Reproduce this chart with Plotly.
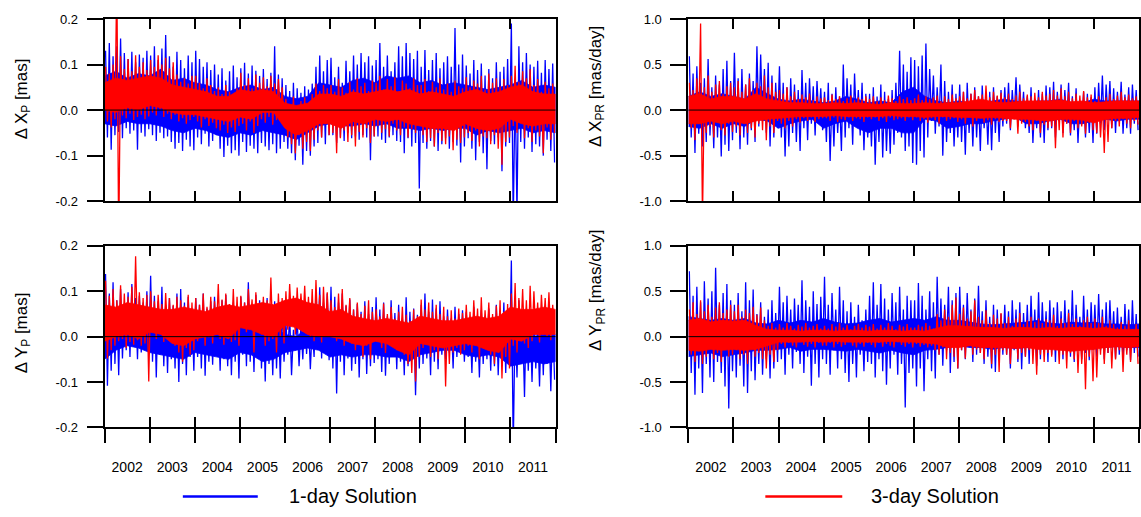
import plotly.graph_objects as go

# ---------------------------------------------------------------------------
# Time axis: monthly samples, 2002.0 - 2012.0
# ---------------------------------------------------------------------------
YEARS = list(range(2002, 2012))
YEAR_LABELS = [str(y) for y in YEARS]

# Monthly peak (HI) and trough (LO) of the daily series, one row per year.
# Polar motion offsets in units of 0.001 mas.
XP_1D_HI = [
    130, 147, 118, 140, 157, 125, 112, 128, 105, 122, 115, 130,
    120, 140, 110, 135, 165, 118, 95, 128, 110, 92, 120, 105,
    130, 112, 95, 105, 88, 100, 78, 92, 65, 85, 98, 72,
    92, 104, 80, 98, 86, 75, 90, 68, 82, 140, 78, 70,
    55, 42, 60, 48, 38, 52, 45, 58, 95, 120, 85, 110,
    115, 72, 95, 60, 108, 85, 120, 100, 125, 105, 118, 98,
    110, 147, 95, 120, 85, 105, 140, 118, 147, 125, 112, 130,
    95, 132, 88, 110, 125, 92, 105, 118, 95, 180, 100, 122,
    98, 80, 110, 88, 102, 76, 90, 70, 105, 84, 95, 112,
    190, 60, 140, 105, 125, 100, 95, 108, 82, 110, 90, 102,
]
XP_1D_LO = [
    -60, -87, -55, -48, -62, -40, -52, -45, -87, -50, -58, -42,
    -55, -68, -50, -62, -58, -70, -85, -72, -90, -65, -80, -88,
    -60, -75, -52, -80, -68, -55, -85, -103, -78, -95, -88, -100,
    -70, -92, -78, -85, -95, -72, -80, -88, -75, -95, -85, -70,
    -85, -95, -110, -78, -120, -90, -100, -80, -72, -60, -75, -55,
    -55, -72, -60, -68, -50, -62, -58, -65, -55, -60, -110, -58,
    -58, -65, -72, -60, -55, -68, -70, -95, -62, -80, -72, -172,
    -72, -85, -68, -80, -90, -75, -62, -85, -70, -78, -115, -80,
    -62, -85, -110, -70, -95, -130, -68, -75, -60, -134, -80, -72,
    -250, -230, -70, -85, -60, -92, -75, -80, -100, -65, -90, -115,
]
XP_3D_HI = [
    95, 80, 100, 300, 118, 90, 112, 85, 120, 95, 105, 88,
    110, 95, 120, 100, 115, 92, 105, 78, 62, 70, 58, 75,
    75, 60, 48, 70, 55, 42, 50, 35, 55, 40, 30, 48,
    82, 55, 70, 48, 78, 60, 72, 52, 75, 58, 68, 50,
    25, 12, 30, 8, 20, 28, 15, 35, 58, 42, 55, 48,
    55, 40, 68, 50, 38, 62, 45, 70, 52, 60, 42, 65,
    60, 75, 45, 68, 52, 72, 40, 65, 58, 48, 70, 55,
    55, 68, 42, 62, 50, 70, 45, 58, 40, 65, 52, 48,
    72, 50, 65, 58, 75, 45, 80, 60, 70, 52, 68, 55,
    75, 97, 62, 85, 70, 90, 55, 68, 40, 62, 48, 58,
]
XP_3D_LO = [
    -25, -38, -20, -300, -12, -18, -8, -22, -15, -10, -20, -14,
    -5, -12, 2, -15, -8, -20, -10, -25, -18, -30, -22, -15,
    -25, -38, -20, -35, -28, -40, -45, -32, -50, -38, -48, -35,
    -30, -45, -25, -50, -35, -20, -28, -15, -32, -22, -12, -25,
    -60, -75, -95, -55, -85, -70, -90, -65, -45, -60, -30, -55,
    -50, -95, -62, -45, -70, -55, -80, -48, -60, -40, -72, -58,
    -35, -50, -42, -58, -30, -45, -55, -38, -60, -42, -50, -35,
    -55, -70, -62, -80, -50, -68, -75, -58, -88, -65, -72, -60,
    -50, -68, -45, -80, -58, -62, -75, -55, -85, -120, -70, -60,
    -35, -50, -28, -62, -40, -70, -45, -58, -95, -38, -65, -50,
]
YP_1D_HI = [
    138, 95, 120, 80, 105, 72, 98, 116, 85, 90, 75, 100,
    134, 90, 78, 110, 70, 85, 68, 95, 105, 75, 88, 62,
    85, 70, 95, 62, 78, 88, 55, 80, 92, 65, 75, 58,
    88, 75, 120, 70, 92, 80, 60, 85, 52, 78, 45, 68,
    30, 48, 15, 40, 25, 50, 35, 20, 80, 109, 75, 95,
    110, 88, 75, 95, 68, 82, 60, 72, 55, 78, 50, 65,
    87, 60, 75, 45, 80, 52, 70, 40, 87, 55, 62, 48,
    70, 95, 55, 82, 62, 78, 45, 60, 40, 66, 50, 58,
    55, 40, 66, 32, 58, 45, 62, 38, 70, 50, 75, 60,
    168, 45, 80, 30, 62, 40, 55, 25, 48, 60, 35, 50,
]
YP_1D_LO = [
    -108, -75, -60, -85, -48, -30, -45, -22, -50, -35, -28, -40,
    -55, -90, -40, -65, -80, -50, -70, -100, -60, -85, -45, -75,
    -45, -70, -86, -55, -62, -40, -75, -50, -65, -85, -55, -92,
    -40, -65, -55, -78, -48, -70, -99, -60, -85, -70, -92, -55,
    -40, -85, -30, -65, -50, -38, -72, -45, -25, -48, -35, -52,
    -70, -125, -55, -85, -48, -75, -60, -90, -50, -82, -65, -58,
    -50, -78, -86, -60, -45, -72, -55, -85, -65, -50, -129, -70,
    -60, -48, -85, -55, -72, -40, -50, -35, -70, -45, -30, -55,
    -45, -80, -55, -90, -60, -50, -75, -65, -85, -55, -80, -60,
    -250, -90, -60, -133, -75, -100, -70, -110, -85, -60, -120, -95,
]
YP_3D_HI = [
    123, 90, 105, 80, 113, 95, 88, 110, 177, 98, 85, 92,
    100, 78, 92, 72, 96, 85, 70, 88, 80, 68, 92, 75,
    85, 70, 95, 66, 88, 78, 116, 82, 95, 72, 105, 88,
    90, 75, 105, 82, 98, 70, 88, 80, 130, 72, 95, 85,
    100, 116, 90, 108, 95, 112, 88, 105, 125, 92, 110, 98,
    80, 65, 95, 105, 70, 85, 60, 75, 50, 68, 80, 55,
    60, 45, 73, 50, 65, 40, 55, 66, 48, 35, 60, 45,
    82, 60, 75, 55, 70, 50, 66, 45, 58, 40, 62, 52,
    70, 55, 80, 62, 87, 58, 75, 50, 68, 80, 55, 72,
    95, 118, 85, 105, 80, 112, 100, 75, 92, 85, 98, 70,
]
YP_3D_LO = [
    -48, -30, -20, -10, -5, -25, -12, -18, -8, -20, -15, -99,
    10, -5, 20, -12, 5, -8, -20, -35, -55, -25, -40, -30,
    -10, 5, -20, -2, -15, 8, -5, -18, 0, -12, -8, -20,
    20, 10, 30, -35, 15, 5, -20, -10, -5, -35, 0, -15,
    15, 30, 5, 20, 25, 10, 0, -10, 10, -13, 5, 0,
    5, -10, 0, -20, 8, -15, -30, -5, -45, -20, -50, -10,
    -5, -25, -36, -10, -20, -30, -15, -40, -60, -80, -99, -45,
    -25, -13, -45, -30, -50, -20, -110, -60, -35, -25, -40, -30,
    -20, -35, -15, -50, -25, -13, -40, -60, -30, -92, -45, -70,
    -20, -35, 0, -15, -25, -10, 5, -13, 15, 0, -8, 10,
]

# Polar motion rate offsets in units of 0.01 mas/day.
XPR_1D_HI = [
    59, 40, 48, 30, 35, 56, 25, 38, 28, 45, 54, 32,
    63, 35, 45, 28, 40, 32, 70, 61, 45, 52, 38, 30,
    48, 30, 25, 35, 28, 22, 44, 30, 35, 26, 32, 24,
    20, 30, 18, 25, 15, 50, 35, 28, 40, 22, 30, 18,
    18, 25, 15, 28, 20, 12, 22, 30, 65, 50, 42, 58,
    55, 48, 60, 73, 45, 38, 25, 50, 32, 20, 28, 18,
    28, 20, 30, 18, 25, 15, 27, 12, 20, 25, 15, 22,
    25, 30, 22, 36, 28, 20, 15, 25, 12, 22, 18, 27,
    25, 31, 20, 28, 22, 30, 15, 24, 10, 20, 18, 14,
    25, 30, 38, 28, 32, 24, 20, 31, 17, 25, 28, 22,
]
XPR_1D_LO = [
    -30, -47, -26, -40, -35, -28, -42, -30, -51, -38, -45, -33,
    -25, -43, -30, -38, -22, -35, -18, -12, -25, -40, -30, -20,
    -30, -51, -40, -25, -35, -45, -20, -33, -15, -28, -10, -22,
    -35, -56, -40, -25, -45, -30, -20, -38, -15, -28, -44, -30,
    -40, -60, -35, -52, -45, -48, -38, -25, -30, -45, -40, -58,
    -60, -45, -52, -30, -12, -26, -18, -50, -35, -25, -40, -30,
    -35, -49, -25, -40, -30, -45, -20, -38, -44, -25, -35, -18,
    -15, -22, -10, -18, -12, -20, -25, -36, -20, -30, -36, -22,
    -20, -30, -12, -25, -15, -28, -22, -36, -15, -30, -25, -36,
    -26, -15, -22, -10, -20, -25, -12, -26, -20, -26, -15, -22,
]
XPR_3D_HI = [
    30, 22, 35, 95, 25, 38, 20, 28, 32, 18, 26, 30,
    25, 32, 20, 28, 35, 22, 30, 26, 38, 25, 30, 20,
    22, 18, 25, 15, 20, 12, 17, 14, 18, 11, 15, 13,
    14, 11, 17, 12, 15, 10, 13, 16, 11, 14, 12, 15,
    12, 15, 10, 14, 11, 16, 13, 10, 15, 12, 14, 11,
    13, 17, 11, 15, 12, 14, 16, 10, 15, 12, 17, 13,
    15, 20, 13, 18, 22, 15, 17, 27, 14, 20, 16, 19,
    14, 18, 12, 16, 20, 13, 17, 15, 19, 14, 20, 16,
    18, 22, 16, 24, 15, 20, 13, 18, 16, 21, 14, 17,
    10, 15, 8, 14, 18, 12, 16, 20, 14, 17, 13, 15,
]
XPR_3D_LO = [
    -20, -33, -15, -120, -25, -18, -30, -12, -22, -28, -15, -24,
    -18, -28, -12, -25, -20, -30, -15, -22, -33, -18, -25, -12,
    -15, -20, -12, -18, -10, -14, -9, -12, -8, -13, -10, -9,
    -9, -12, -8, -13, -10, -11, -8, -12, -9, -10, -13, -8,
    -10, -8, -12, -9, -13, -8, -11, -10, -9, -12, -8, -11,
    -8, -12, -10, -14, -9, -11, -15, -8, -12, -10, -9, -13,
    -10, -15, -8, -18, -12, -9, -14, -11, -16, -10, -13, -12,
    -12, -20, -10, -26, -15, -13, -18, -22, -12, -25, -16, -20,
    -18, -42, -22, -30, -15, -25, -12, -20, -18, -26, -14, -22,
    -25, -30, -47, -35, -20, -12, -18, -10, -15, -20, -12, -16,
]
YPR_1D_HI = [
    72, 45, 55, 38, 61, 42, 50, 76, 35, 48, 58, 40,
    35, 48, 28, 60, 40, 52, 25, 38, 22, 30, 40, 26,
    55, 38, 45, 30, 42, 35, 62, 40, 33, 50, 36, 44,
    66, 35, 48, 30, 55, 40, 28, 38, 22, 35, 18, 30,
    45, 60, 35, 58, 42, 30, 48, 38, 55, 30, 45, 40,
    40, 59, 45, 30, 50, 38, 66, 42, 35, 55, 40, 48,
    55, 35, 48, 30, 42, 56, 28, 40, 22, 35, 30, 25,
    35, 28, 40, 30, 38, 26, 35, 45, 30, 49, 38, 28,
    40, 32, 38, 28, 40, 30, 51, 35, 22, 45, 30, 38,
    35, 47, 30, 38, 40, 28, 32, 22, 36, 30, 40, 25,
]
YPR_1D_LO = [
    -40, -64, -35, -62, -30, -45, -50, -28, -40, -55, -79, -38,
    -45, -32, -55, -62, -38, -48, -30, -42, -25, -46, -35, -28,
    -25, -42, -20, -35, -17, -30, -40, -22, -54, -30, -45, -25,
    -30, -42, -15, -35, -25, -40, -50, -30, -45, -20, -38, -28,
    -30, -45, -25, -38, -53, -35, -20, -42, -30, -78, -40, -35,
    -55, -35, -60, -25, -38, -46, -20, -32, -15, -40, -28, -35,
    -15, -25, -10, -28, -20, -18, -30, -22, -35, -39, -25, -20,
    -20, -35, -15, -28, -36, -22, -30, -18, -32, -25, -15, -28,
    -20, -28, -15, -25, -18, -22, -28, -12, -25, -18, -26, -15,
    -22, -15, -25, -18, -12, -24, -20, -28, -15, -26, -18, -22,
]
YPR_3D_HI = [
    30, 38, 25, 40, 28, 35, 22, 32, 38, 26, 30, 35,
    28, 35, 22, 30, 26, 33, 24, 32, 18, 12, 15, 10,
    14, 10, 15, 12, 9, 13, 11, 15, 10, 12, 14, 9,
    12, 9, 14, 11, 15, 10, 13, 8, 12, 14, 10, 13,
    11, 14, 9, 13, 10, 15, 12, 8, 13, 11, 14, 10,
    10, 13, 11, 15, 12, 9, 25, 18, 30, 22, 35, 43,
    25, 32, 20, 28, 40, 22, 18, 29, 15, 24, 20, 26,
    15, 22, 12, 20, 26, 14, 18, 22, 16, 20, 15, 19,
    18, 24, 12, 20, 15, 26, 14, 20, 12, 18, 22, 15,
    20, 15, 22, 12, 18, 14, 10, 16, 12, 18, 8, 14,
]
YPR_3D_LO = [
    -20, -28, -15, -30, -22, -12, -25, -18, -28, -15, -22, -20,
    -15, -25, -20, -30, -12, -22, -18, -25, -35, -20, -28, -15,
    -8, -12, -7, -10, -12, -6, -9, -11, -8, -12, -7, -10,
    -10, -7, -12, -8, -11, -9, -6, -10, -12, -8, -11, -7,
    -9, -12, -7, -11, -8, -10, -12, -6, -9, -11, -8, -12,
    -8, -11, -9, -12, -10, -15, -20, -12, -25, -18, -22, -35,
    -15, -24, -10, -20, -14, -18, -25, -12, -30, -20, -39, -15,
    -20, -30, -12, -25, -18, -22, -15, -30, -42, -20, -28, -18,
    -22, -15, -30, -20, -35, -18, -25, -40, -30, -58, -22, -49,
    -45, -20, -30, -18, -35, -25, -15, -39, -20, -28, -12, -30,
]

# Dense core of each series (where the daily values overlap into a solid
# band), one value per quarter from 2002.0 to 2012.0, same units as above.
XP_1D_CORE_HI = [75, 85, 70, 80, 75, 90, 65, 70, 60, 55, 45, 40, 50, 55, 45, 50,
                 30, 25, 30, 60, 55, 50, 65, 70, 60, 75, 70, 75, 60, 65, 55, 60,
                 55, 50, 45, 50, 55, 65, 50, 55, 50]
XP_1D_CORE_LO = [-30, -35, -25, -30, -30, -35, -45, -50, -40, -45, -55, -60, -50, -55, -45, -50,
                 -55, -65, -50, -35, -30, -35, -35, -30, -35, -30, -40, -40, -45, -40, -45, -40,
                 -40, -55, -45, -50, -45, -40, -50, -45, -50]
XP_3D_CORE_HI = [60, 70, 65, 70, 75, 70, 55, 50, 45, 40, 30, 30, 45, 40, 45, 40,
                 15, 10, 15, 35, 35, 30, 40, 35, 40, 45, 40, 45, 35, 40, 35, 30,
                 40, 45, 35, 40, 50, 55, 40, 35, 35]
XP_3D_CORE_LO = [0, -5, 5, 0, 10, 5, -5, -10, -10, -15, -20, -25, -15, -20, -5, -5,
                 -40, -55, -45, -30, -30, -40, -25, -30, -20, -25, -20, -30, -35, -40, -40, -45,
                 -30, -40, -45, -40, -20, -30, -35, -30, -30]
YP_1D_CORE_HI = [55, 45, 40, 50, 45, 40, 35, 45, 40, 35, 40, 45, 40, 45, 30, 25,
                 5, 0, 20, 45, 40, 35, 30, 35, 30, 25, 30, 25, 30, 35, 20, 20,
                 20, 25, 20, 25, 10, 5, 0, 5, 5]
YP_1D_CORE_LO = [-50, -30, -20, -25, -35, -40, -45, -50, -35, -40, -45, -50, -35, -40, -55, -50,
                 -35, -30, -25, -30, -45, -40, -45, -40, -40, -45, -45, -55, -40, -35, -30, -30,
                 -40, -45, -40, -45, -65, -60, -55, -60, -55]
YP_3D_CORE_HI = [70, 65, 75, 70, 65, 60, 60, 65, 60, 55, 65, 70, 65, 70, 75, 70,
                 80, 85, 75, 70, 55, 60, 45, 40, 35, 40, 35, 30, 45, 40, 35, 35,
                 40, 45, 40, 45, 65, 60, 60, 65, 60]
YP_3D_CORE_LO = [-10, 0, 5, -5, 10, 5, -15, -20, -5, 0, 5, -5, 20, 15, 5, 0,
                 25, 20, 5, 0, 0, -5, -15, -20, -10, -15, -30, -40, -15, -20, -25, -20,
                 -15, -20, -30, -35, -5, -10, 5, 5, 5]
XPR_1D_CORE_HI = [15, 20, 15, 18, 15, 12, 25, 18, 12, 10, 12, 10, 8, 10, 15, 12,
                  8, 10, 8, 20, 25, 15, 10, 8, 10, 8, 8, 10, 12, 10, 8, 10,
                  10, 12, 8, 8, 12, 10, 10, 10, 10]
XPR_1D_CORE_LO = [-18, -20, -15, -20, -15, -18, -10, -12, -20, -15, -12, -10, -20, -15, -12, -20,
                  -25, -20, -20, -25, -25, -10, -12, -20, -18, -15, -15, -12, -10, -8, -15, -15,
                  -12, -10, -15, -15, -12, -10, -12, -10, -10]
XPR_3D_CORE_HI = [15, 18, 12, 15, 15, 12, 18, 12, 10, 8, 8, 7, 7, 8, 7, 8,
                  7, 6, 8, 7, 7, 8, 7, 8, 8, 10, 12, 9, 8, 9, 10, 10,
                  10, 11, 9, 10, 8, 9, 10, 10, 10]
XPR_3D_CORE_LO = [-15, -15, -12, -15, -12, -15, -12, -10, -9, -8, -7, -7, -7, -6, -7, -7,
                  -7, -7, -6, -7, -7, -8, -7, -7, -8, -8, -9, -8, -9, -10, -10, -11,
                  -12, -10, -10, -11, -14, -10, -9, -9, -8]
YPR_1D_CORE_HI = [22, 20, 18, 20, 18, 20, 15, 14, 18, 15, 18, 16, 20, 16, 14, 15,
                  18, 20, 16, 18, 20, 18, 22, 18, 18, 16, 14, 13, 14, 15, 16, 18,
                  15, 14, 16, 15, 16, 14, 14, 13, 14]
YPR_1D_CORE_LO = [-22, -20, -18, -22, -20, -18, -15, -15, -14, -12, -16, -14, -14, -15, -16, -14,
                  -16, -18, -15, -18, -20, -15, -14, -12, -10, -12, -12, -14, -12, -13, -12, -12,
                  -11, -12, -11, -12, -11, -12, -11, -12, -12]
YPR_3D_CORE_HI = [18, 20, 16, 18, 17, 18, 12, 8, 7, 7, 6, 7, 7, 6, 7, 7,
                  6, 7, 7, 6, 7, 6, 9, 12, 12, 11, 10, 10, 9, 10, 10, 9,
                  10, 9, 10, 10, 9, 10, 8, 8, 8]
YPR_3D_CORE_LO = [-15, -16, -14, -15, -14, -15, -14, -10, -6, -6, -6, -5, -6, -5, -6, -6,
                  -6, -6, -5, -6, -6, -7, -8, -12, -12, -10, -12, -12, -12, -13, -12, -14,
                  -14, -15, -16, -15, -14, -12, -11, -12, -11]

# Axis ticks
POS_TICKS = [-0.2, -0.1, 0.0, 0.1, 0.2]
POS_LABELS = ["-0.2", "-0.1", "0.0", "0.1", "0.2"]
RATE_TICKS = [-1.0, -0.5, 0.0, 0.5, 1.0]
RATE_LABELS = ["-1.0", "-0.5", "0.0", "0.5", "1.0"]

BLUE = "#0000ff"
RED = "#ff0000"
FONT = "Liberation Sans, Arial, Helvetica, sans-serif"
W, H = 1141, 517


def series(hi, lo, unit):
    """Interleave monthly peaks and troughs into one time series."""
    xs, ys = [], []
    for m, (h, l) in enumerate(zip(hi, lo)):
        xs += [YEARS[0] + (m + 0.25) / 12.0, YEARS[0] + (m + 0.75) / 12.0]
        ys += [h * unit, l * unit]
    return xs, ys


def core(hi, lo, unit):
    """Closed outline of the dense band, quarterly sampling."""
    xs = [YEARS[0] + 0.25 * k for k in range(len(hi))]
    return xs + xs[::-1], [v * unit for v in hi] + [v * unit for v in lo[::-1]]


panels = [
    ("x", "y", 0.001,
     (XP_1D_HI, XP_1D_LO, XP_1D_CORE_HI, XP_1D_CORE_LO),
     (XP_3D_HI, XP_3D_LO, XP_3D_CORE_HI, XP_3D_CORE_LO)),
    ("x2", "y2", 0.01,
     (XPR_1D_HI, XPR_1D_LO, XPR_1D_CORE_HI, XPR_1D_CORE_LO),
     (XPR_3D_HI, XPR_3D_LO, XPR_3D_CORE_HI, XPR_3D_CORE_LO)),
    ("x3", "y3", 0.001,
     (YP_1D_HI, YP_1D_LO, YP_1D_CORE_HI, YP_1D_CORE_LO),
     (YP_3D_HI, YP_3D_LO, YP_3D_CORE_HI, YP_3D_CORE_LO)),
    ("x4", "y4", 0.01,
     (YPR_1D_HI, YPR_1D_LO, YPR_1D_CORE_HI, YPR_1D_CORE_LO),
     (YPR_3D_HI, YPR_3D_LO, YPR_3D_CORE_HI, YPR_3D_CORE_LO)),
]

fig = go.Figure()
for xa, ya, unit, one_day, three_day in panels:
    for (hi, lo, chi, clo), color, name in [(one_day, BLUE, "1-day Solution"),
                                            (three_day, RED, "3-day Solution")]:
        cx, cy = core(chi, clo, unit)
        fig.add_trace(go.Scatter(x=cx, y=cy, mode="lines", fill="toself",
                                 fillcolor=color, line=dict(width=0.8, color=color),
                                 xaxis=xa, yaxis=ya, name=name,
                                 showlegend=False, hoverinfo="skip"))
        sx, sy = series(hi, lo, unit)
        fig.add_trace(go.Scatter(x=sx, y=sy, mode="lines", xaxis=xa, yaxis=ya,
                                 line=dict(color=color, width=1.3),
                                 name=name, showlegend=False))


# pixel-based domains
def xd(a, b):
    return [a / W, b / W]


def yd(top, bottom):
    return [1 - bottom / H, 1 - top / H]


LEFT = xd(104.7, 556.0)
RIGHT = xd(689.0, 1140.0)
TOP = yd(12.3, 200.0)
BOTTOM = yd(246.0, 433.0)

XRANGE = [YEARS[0], YEARS[-1] + 1]
YEAR_EDGES = YEARS + [YEARS[-1] + 1]
YEAR_MIDS = [y + 0.5 for y in YEARS]

base_x = dict(range=XRANGE, showgrid=False, zeroline=False, showline=True,
              linecolor="black", linewidth=2, mirror="ticks",
              tickmode="array", tickvals=YEAR_EDGES, ticks="inside",
              ticklen=10, tickwidth=1.6, tickcolor="black",
              showticklabels=False)


def base_y(ticks, labels, rng):
    return dict(range=rng, showgrid=False, zeroline=False, showline=True,
                linecolor="black", linewidth=2, mirror=True,
                tickmode="array", tickvals=ticks, ticktext=labels,
                ticks="outside", ticklen=16, tickwidth=1.6,
                tickcolor="black", ticklabelstandoff=6,
                tickfont=dict(family=FONT, size=13, color="black"))


layout = dict(
    width=W, height=H, margin=dict(l=0, r=0, t=0, b=0),
    paper_bgcolor="white", plot_bgcolor="white", showlegend=False,
    font=dict(family=FONT, color="black"),
    xaxis=dict(base_x, domain=LEFT, anchor="y"),
    xaxis2=dict(base_x, domain=RIGHT, anchor="y2"),
    xaxis3=dict(base_x, domain=LEFT, anchor="y3"),
    xaxis4=dict(base_x, domain=RIGHT, anchor="y4"),
    yaxis=dict(base_y(POS_TICKS, POS_LABELS, [-0.2, 0.2]), domain=TOP, anchor="x"),
    yaxis2=dict(base_y(RATE_TICKS, RATE_LABELS, [-1.0, 1.0]), domain=TOP, anchor="x2"),
    yaxis3=dict(base_y(POS_TICKS, POS_LABELS, [-0.2, 0.2]), domain=BOTTOM, anchor="x3"),
    yaxis4=dict(base_y(RATE_TICKS, RATE_LABELS, [-1.0, 1.0]), domain=BOTTOM, anchor="x4"),
)

# outer year ticks and year labels under the lower panels
for k, (main, ya) in enumerate([("x3", "y3"), ("x4", "y4")]):
    n_ticks = 5 + 2 * k
    n_lab = n_ticks + 1
    layout[f"xaxis{n_ticks}"] = dict(
        overlaying=main, anchor=ya, side="bottom", range=XRANGE,
        showgrid=False, zeroline=False, showline=False,
        tickmode="array", tickvals=YEAR_EDGES, ticks="outside",
        ticklen=15, tickwidth=1.6, tickcolor="black", showticklabels=False)
    layout[f"xaxis{n_lab}"] = dict(
        overlaying=main, anchor=ya, side="bottom", range=XRANGE,
        showgrid=False, zeroline=False, showline=False,
        tickmode="array", tickvals=YEAR_MIDS, ticktext=YEAR_LABELS,
        ticks="outside", ticklen=27, tickcolor="rgba(0,0,0,0)",
        tickfont=dict(family=FONT, size=14, color="black"))
    for n in (n_ticks, n_lab):
        fig.add_trace(go.Scatter(x=[], y=[], xaxis=f"x{n}", yaxis=ya,
                                 showlegend=False, hoverinfo="skip"))

fig.update_layout(**layout)

# zero reference line over the data
for xa, ya in [("x", "y"), ("x2", "y2"), ("x3", "y3"), ("x4", "y4")]:
    fig.add_shape(type="line", xref=f"{xa} domain", yref=ya, x0=0, x1=1,
                  y0=0, y1=0, line=dict(color="black", width=1), layer="above")

# axis titles (x, y centre in pixels)
titles = [
    (23, 94, "\u0394 X<sub>P</sub> [mas]"),
    (23, 335, "\u0394 Y<sub>P</sub> [mas]"),
    (597, 82, "\u0394 X<sub>PR</sub> [mas/day]"),
    (597, 292, "\u0394 Y<sub>PR</sub> [mas/day]"),
]
for px, py, txt in titles:
    fig.add_annotation(x=px / W, y=1 - py / H, xref="paper", yref="paper",
                       text=txt, textangle=-90, showarrow=False,
                       xanchor="center", yanchor="middle",
                       font=dict(family=FONT, size=17, color="black"))

# legend
legend_items = [(183, 258, 287, BLUE, "1-day Solution"),
                (766, 843, 870, RED, "3-day Solution")]
for x0, x1, tx, col, txt in legend_items:
    fig.add_shape(type="line", xref="paper", yref="paper",
                  x0=x0 / W, x1=x1 / W, y0=1 - 504 / H, y1=1 - 504 / H,
                  line=dict(color=col, width=2.5))
    fig.add_annotation(x=tx / W, y=1 - 504 / H, xref="paper", yref="paper",
                       text=txt, showarrow=False, xanchor="left",
                       yanchor="middle",
                       font=dict(family=FONT, size=20, color="black"))

fig.write_html("out.html")
